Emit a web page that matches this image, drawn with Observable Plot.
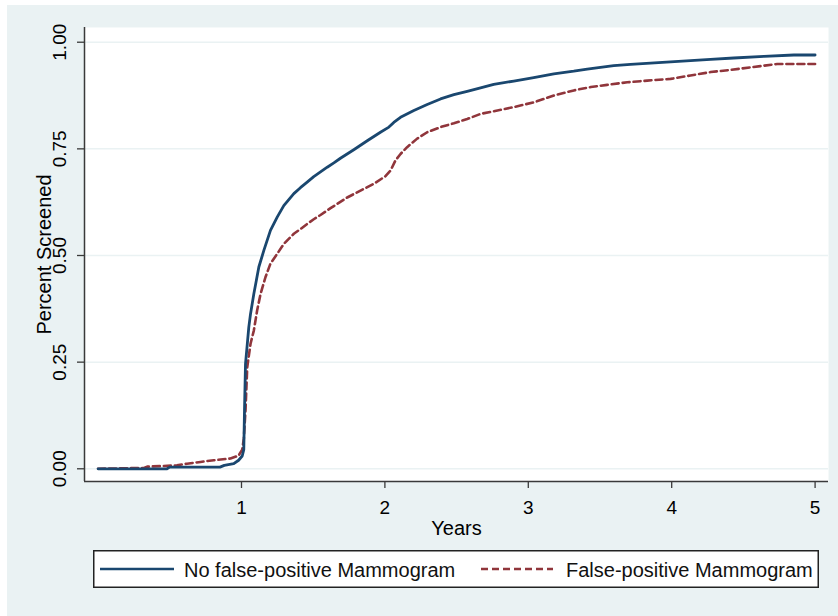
<!DOCTYPE html>
<html>
<head>
<meta charset="utf-8">
<script src="https://cdn.jsdelivr.net/npm/d3@7"></script>
<script src="https://cdn.jsdelivr.net/npm/@observablehq/plot@0.6"></script>
<style>
  body { margin: 0; background: #ffffff; font-family: "Liberation Sans", Arial, sans-serif; }
  #fig { position: absolute; left: 7px; top: 5px; width: 831px; height: 611px; background: #EAF2F3; overflow: hidden; }
  #chart { position: absolute; left: 0; top: 0; }
  #legend { position: absolute; left: 86px; top: 545px; }
</style>
</head>
<body>
<div id="fig">
  <div id="chart"></div>
  <svg id="legend" width="726" height="38" font-family="Liberation Sans, Arial, sans-serif">
    <rect x="0.75" y="0.75" width="724.5" height="36.5" fill="#ffffff" stroke="#222222" stroke-width="1.5"></rect>
    <line id="lg1" x1="7" x2="81" y1="19" y2="19" stroke-width="2.6"></line>
    <text id="lt1" x="91" y="27" font-size="20" fill="#111111"></text>
    <line id="lg2" x1="388" x2="460" y1="19" y2="19" stroke-width="2.6" stroke-dasharray="7,4"></line>
    <text id="lt2" x="473" y="27" font-size="20" fill="#111111"></text>
  </svg>
</div>
<script>
// ---- Data ----
const seriesNames = ["No false-positive Mammogram", "False-positive Mammogram"];
const seriesColors = ["#1a476f", "#90353b"];

const noFpYears = [0, 0.48, 0.5, 0.85, 0.88, 0.946, 0.98, 1.005, 1.016, 1.021, 1.028, 1.051, 1.063, 1.086, 1.121, 1.156, 1.202, 1.249, 1.295, 1.365, 1.411, 1.458, 1.504, 1.551, 1.598, 1.644, 1.69, 1.783, 1.877, 1.969, 2.028, 2.062, 2.109, 2.202, 2.295, 2.388, 2.481, 2.574, 2.667, 2.759, 2.899, 3.038, 3.178, 3.317, 3.411, 3.503, 3.596, 3.713, 3.852, 3.992, 4.131, 4.271, 4.433, 4.643, 4.852, 5.0];
const noFpValues = [0, 0, 0.004, 0.004, 0.008, 0.012, 0.02, 0.03, 0.045, 0.137, 0.246, 0.332, 0.363, 0.41, 0.473, 0.512, 0.559, 0.59, 0.617, 0.645, 0.659, 0.672, 0.685, 0.696, 0.707, 0.717, 0.728, 0.748, 0.769, 0.789, 0.801, 0.812, 0.824, 0.84, 0.854, 0.867, 0.877, 0.885, 0.893, 0.901, 0.909, 0.917, 0.926, 0.932, 0.937, 0.941, 0.945, 0.948, 0.951, 0.954, 0.957, 0.96, 0.963, 0.967, 0.97, 0.97];

const fpYears = [0, 0.32, 0.342, 0.55, 0.62, 0.714, 0.807, 0.923, 0.98, 1.005, 1.016, 1.028, 1.04, 1.063, 1.086, 1.109, 1.133, 1.167, 1.202, 1.249, 1.295, 1.365, 1.411, 1.458, 1.504, 1.551, 1.621, 1.737, 1.83, 1.923, 2.004, 2.039, 2.074, 2.109, 2.155, 2.225, 2.295, 2.388, 2.481, 2.574, 2.667, 2.759, 2.899, 3.038, 3.178, 3.317, 3.436, 3.55, 3.69, 3.829, 3.992, 4.131, 4.271, 4.41, 4.549, 4.736, 5.0];
const fpValues = [0, 0.002, 0.005, 0.008, 0.012, 0.016, 0.02, 0.024, 0.031, 0.045, 0.07, 0.137, 0.238, 0.293, 0.324, 0.371, 0.41, 0.449, 0.481, 0.504, 0.527, 0.551, 0.562, 0.574, 0.585, 0.595, 0.611, 0.636, 0.652, 0.668, 0.686, 0.699, 0.723, 0.738, 0.754, 0.774, 0.789, 0.801, 0.81, 0.82, 0.832, 0.838, 0.848, 0.859, 0.875, 0.887, 0.895, 0.9, 0.906, 0.91, 0.914, 0.922, 0.93, 0.935, 0.941, 0.949, 0.949];

const xTicks = [1, 2, 3, 4, 5];
const yTicks = [0, 0.25, 0.5, 0.75, 1];
const xLabel = "Years";
const yLabel = "Percent Screened";

// ---- Build tables ----
const noFpRows = noFpYears.map((x, i) => ({x, y: noFpValues[i]}));
const fpRows = fpYears.map((x, i) => ({x, y: fpValues[i]}));

const xDomain = [-0.0948, 5.0935];
const yDomain = [-0.0298, 1.0345];
const axisColor = "#3a3a3a";

const chart = Plot.plot({
  width: 831,
  height: 540,
  marginLeft: 77,
  marginRight: 10,
  marginTop: 22,
  marginBottom: 64,
  style: {background: "transparent", fontFamily: "Liberation Sans, Arial, sans-serif", fontSize: "19px", color: "#000", overflow: "visible"},
  x: {domain: xDomain},
  y: {domain: yDomain},
  marks: [
    Plot.frame({fill: "#ffffff", stroke: "none"}),
    Plot.gridY(yTicks, {stroke: "#EAF2F3", strokeOpacity: 1, strokeWidth: 1.5}),
    Plot.line(fpRows, {x: "x", y: "y", stroke: seriesColors[1], strokeWidth: 2.6, strokeDasharray: "7,4"}),
    Plot.line(noFpRows, {x: "x", y: "y", stroke: seriesColors[0], strokeWidth: 2.8}),
    Plot.ruleX([xDomain[0]], {stroke: axisColor, strokeWidth: 1.5}),
    Plot.ruleY([yDomain[0]], {stroke: axisColor, strokeWidth: 1.5}),
    Plot.axisY(yTicks, {tickSize: 7, tickPadding: 12, tickRotate: -90, tickFormat: d3.format(".2f"), label: null, stroke: axisColor, strokeWidth: 1.3, fill: "#000"}),
    Plot.axisX(xTicks, {tickSize: 7, tickPadding: 12, tickFormat: d3.format("d"), label: null, stroke: axisColor, strokeWidth: 1.3, fill: "#000"}),
    Plot.text([xLabel], {frameAnchor: "bottom", dy: 39, lineAnchor: "top", fontSize: 20, fill: "#000", text: d => d}),
    Plot.text([yLabel], {frameAnchor: "left", rotate: -90, dx: -34, lineAnchor: "bottom", textAnchor: "middle", fontSize: 20, fill: "#000", text: d => d})
  ]
});
document.getElementById("chart").appendChild(chart);

// ---- Legend ----
document.getElementById("lg1").setAttribute("stroke", seriesColors[0]);
document.getElementById("lg2").setAttribute("stroke", seriesColors[1]);
document.getElementById("lt1").textContent = seriesNames[0];
document.getElementById("lt2").textContent = seriesNames[1];
</script>
</body>
</html>
